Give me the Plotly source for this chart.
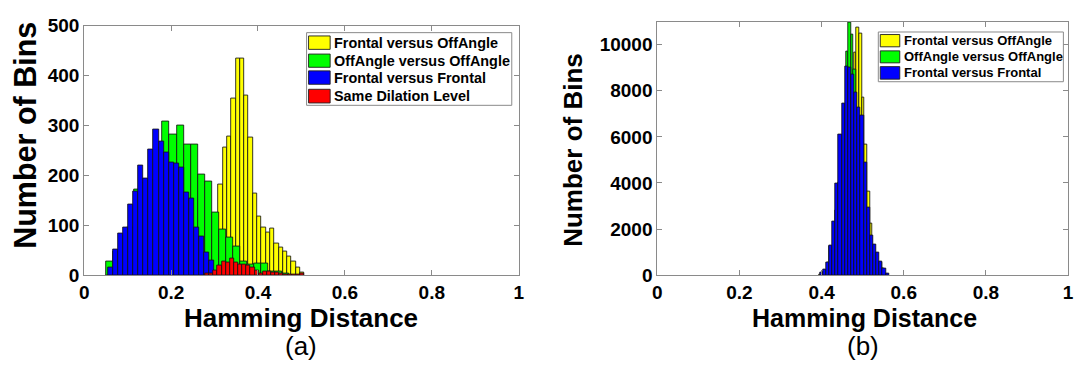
import plotly.graph_objects as go

# ---------------- data: panel (a) ----------------
# each histogram: left edge of first bin, bin width, counts per bin
fva_a_lo, fva_a_w = 0.2596, 0.0099
fva_a_counts = [5, 15, 35, 70, 110, 182, 256, 278, 354, 434, 434, 359, 275, 164,
                117, 95, 86, 93, 63, 55, 47, 38, 27, 16, 6]

ovo_a_lo, ovo_a_w = 0.0509, 0.0162
ovo_a_counts = [27, 48, 80, 95, 172, 185, 190, 255, 308, 281, 299, 261, 261, 202,
                187, 125, 92, 76, 57, 27, 22, 23, 23, 8, 7, 3]

fvf_a_lo, fvf_a_w = 0.0547, 0.01169
fvf_a_counts = [16, 51, 84, 95, 141, 167, 219, 193, 252, 292, 267, 246, 226, 223,
                215, 165, 153, 95, 77, 45, 30]

sdl_a_lo, sdl_a_w = 0.2786, 0.0095
sdl_a_counts = [3, 4, 9, 20, 27, 25, 33, 26, 21, 21, 19, 16, 9, 4, 8, 7, 6, 5,
                3, 2, 1, 1, 1, 3]

# ---------------- data: panel (b) ----------------
fva_b_lo, fva_b_w = 0.3955, 0.00643
fva_b_counts = [40, 100, 220, 500, 1100, 1800, 2800, 4000, 5200, 6800, 8000, 9000,
                8800, 9672, 10738, 10492, 7691, 5683, 3634, 2227, 1200, 950, 560,
                280, 60]

ovo_b_lo, ovo_b_w = 0.4024, 0.00578
ovo_b_counts = [100, 220, 540, 1250, 1280, 2300, 3900, 6000, 6050, 7400, 9690, 10970,
                10420, 8900, 7200, 6900, 6800, 4800, 2900, 1650, 1650, 1300, 950,
                560, 560, 280, 60]

fvf_b_lo, fvf_b_w = 0.3959, 0.00764
fvf_b_counts = [109, 232, 560, 1298, 2336, 3962, 6107, 7459, 9057, 8989, 8716, 7937,
                7281, 6940, 4891, 2937, 1708, 1339, 997, 587, 287, 68]

x_ticks = [0, 0.2, 0.4, 0.6, 0.8, 1]
x_tick_text = ["0", "0.2", "0.4", "0.6", "0.8", "1"]
ya_ticks = [0, 100, 200, 300, 400, 500]
yb_ticks = [0, 2000, 4000, 6000, 8000, 10000]
yb_tick_text = ["0", "2000", "4000", "6000", "8000", "10000"]

names_a = ["Frontal versus OffAngle",
           "OffAngle versus OffAngle",
           "Frontal versus Frontal",
           "Same Dilation Level"]

YELLOW, GREEN, BLUE, RED = "#FFFF00", "#00FF00", "#0000FF", "#FF0000"

W, H = 1078, 373
FONT = "Liberation Sans, Arial, Helvetica, sans-serif"


def px(x):
    """canvas pixel column -> paper fraction"""
    return x / W


def py(y):
    """canvas pixel row -> paper fraction"""
    return 1 - y / H


def centers(lo, w, n):
    return [lo + w * (i + 0.5) for i in range(n)]


def hist_bar(lo, w, counts, color, xa, ya):
    return go.Bar(
        x=centers(lo, w, len(counts)), y=counts, width=w,
        marker=dict(color=color, line=dict(color="rgba(20,20,20,0.85)", width=1)),
        xaxis=xa, yaxis=ya, showlegend=False, hoverinfo="x+y",
    )


fig = go.Figure()
# panel (a): drawn back to front
fig.add_trace(hist_bar(fva_a_lo, fva_a_w, fva_a_counts, YELLOW, "x", "y"))
fig.add_trace(hist_bar(ovo_a_lo, ovo_a_w, ovo_a_counts, GREEN, "x", "y"))
fig.add_trace(hist_bar(fvf_a_lo, fvf_a_w, fvf_a_counts, BLUE, "x", "y"))
fig.add_trace(hist_bar(sdl_a_lo, sdl_a_w, sdl_a_counts, RED, "x", "y"))
# panel (b)
fig.add_trace(hist_bar(fva_b_lo, fva_b_w, fva_b_counts, YELLOW, "x2", "y2"))
fig.add_trace(hist_bar(ovo_b_lo, ovo_b_w, ovo_b_counts, GREEN, "x2", "y2"))
fig.add_trace(hist_bar(fvf_b_lo, fvf_b_w, fvf_b_counts, BLUE, "x2", "y2"))

tickfont = dict(family=FONT, size=19, color="black", weight="bold")
axis_common = dict(
    showline=True, linecolor="#8a8a8a", linewidth=1, mirror="ticks",
    ticks="inside", ticklen=5, tickcolor="#8a8a8a", tickwidth=1,
    showgrid=False, zeroline=False, tickfont=tickfont, fixedrange=True,
)

fig.update_layout(
    width=W, height=H,
    margin=dict(l=0, r=0, t=0, b=0),
    paper_bgcolor="white", plot_bgcolor="white",
    barmode="overlay", bargap=0,
    xaxis=dict(domain=[px(80), px(519)], range=[0, 1], tickvals=x_ticks,
               ticktext=x_tick_text, anchor="y", **axis_common),
    yaxis=dict(domain=[py(281), py(16.5)], range=[0, 500], tickvals=ya_ticks,
               anchor="x", **axis_common),
    xaxis2=dict(domain=[px(659), px(1074)], range=[0, 1], tickvals=x_ticks,
                ticktext=x_tick_text, anchor="y2", **axis_common),
    yaxis2=dict(domain=[py(281), py(12.3)], range=[0, 11000], tickvals=yb_ticks,
                ticktext=yb_tick_text, anchor="x2", **axis_common),
)

annotations = []
shapes = []


def text(x, y, s, size, bold=True, angle=0, xanchor="center", family=FONT):
    annotations.append(dict(
        x=px(x), y=py(y), xref="paper", yref="paper", text=s, showarrow=False,
        xanchor=xanchor, yanchor="middle", textangle=angle,
        font=dict(family=family, size=size, color="black",
                  weight="bold" if bold else "normal"),
    ))


# axis titles and panel captions
text(299, 326, "Hamming Distance", 26)
text(19.5, 133, "Number of Bins", 30.5, angle=-90)
text(868, 326, "Hamming Distance", 25)
text(574, 148, "Number of Bins", 26, angle=-90)
text(299.5, 356, "(a)", 26, bold=False)
text(867, 356, "(b)", 26, bold=False)


def legend(box, sw_x, rows, labels, colors, size):
    x0, y0, x1, y1 = box
    shapes.append(dict(type="rect", xref="paper", yref="paper",
                       x0=px(x0), x1=px(x1), y0=py(y1), y1=py(y0),
                       line=dict(color="#8a8a8a", width=1), fillcolor="white"))
    for (ry0, ry1), lab, col in zip(rows, labels, colors):
        shapes.append(dict(type="rect", xref="paper", yref="paper",
                           x0=px(sw_x[0]), x1=px(sw_x[1]), y0=py(ry1), y1=py(ry0),
                           line=dict(color="rgba(30,30,30,0.9)", width=1),
                           fillcolor=col))
        annotations.append(dict(
            x=px(sw_x[1] + 2), y=py((ry0 + ry1) / 2), xref="paper", yref="paper",
            text=lab, showarrow=False, xanchor="left", yanchor="middle",
            font=dict(family=FONT, size=size, color="black", weight="bold"),
        ))


legend((304.7, 24, 512, 101), (306.7, 328.5),
       [(27.5, 41.7), (46.7, 60.7), (64.5, 78.7), (84, 98.5)],
       names_a, [YELLOW, GREEN, BLUE, RED], 14.4)
legend((882.3, 23.3, 1069.3, 76), (884.3, 904),
       [(26, 39), (43.3, 56), (60, 73.3)],
       names_a[:3], [YELLOW, GREEN, BLUE], 13)

fig.update_layout(annotations=annotations, shapes=shapes)
fig.write_html("out.html")
